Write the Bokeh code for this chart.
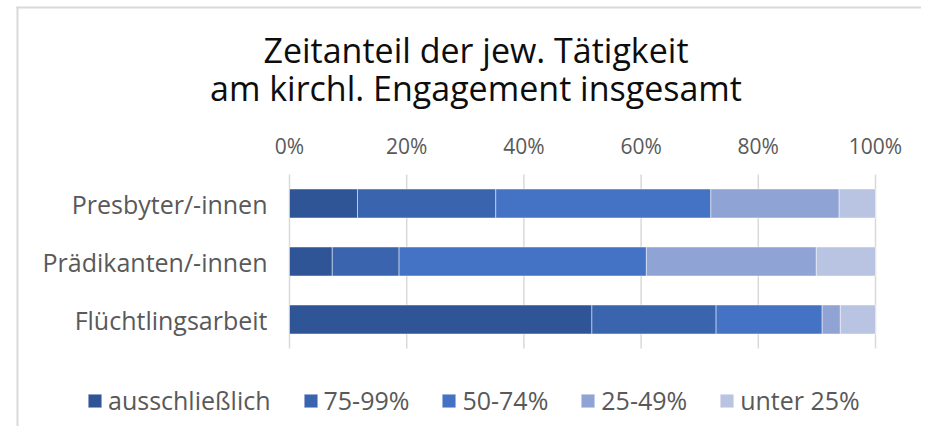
from bokeh.plotting import figure
from bokeh.models import Range1d, Legend, LegendItem, Label, FixedTicker, BoxAnnotation
from bokeh.embed import file_html
from bokeh.resources import INLINE

# ---- data -------------------------------------------------------------
categories = ["Flüchtlingsarbeit", "Prädikanten/-innen", "Presbyter/-innen"]  # bottom -> top
series = ["ausschließlich", "75-99%", "50-74%", "25-49%", "unter 25%"]
ausschliesslich = [51.6, 7.3, 11.6]
p75_99 = [21.2, 11.4, 23.6]
p50_74 = [18.1, 42.2, 36.7]
p25_49 = [3.1, 29.0, 21.9]
unter25 = [6.0, 10.1, 6.2]
tick_values = [0, 20, 40, 60, 80, 100]
tick_labels = ["0%", "20%", "40%", "60%", "80%", "100%"]
title_lines = ["Zeitanteil der jew. Tätigkeit", "am kirchl. Engagement insgesamt"]
colors = ["#2F5597", "#3A64AD", "#4472C4", "#8FA3D4", "#B9C3E2"]

FONT = "Open Sans"
GREY = "#595959"

# ---- layout (canvas pixels, frame == whole canvas) ----------------------
W, H = 921, 426
PLOT_L, PLOT_R = 289, 875          # x pixels of 0 % and 100 %
BAND_TOP, BAND_BOT = 174, 348      # y pixels (from top) of category band
px_per_pct = (PLOT_R - PLOT_L) / (tick_values[-1] - tick_values[0])
n = len(categories)
px_per_cat = (BAND_BOT - BAND_TOP) / n

x_start = tick_values[0] - PLOT_L / px_per_pct
x_end = tick_values[-1] + (W - PLOT_R) / px_per_pct
y_start = -(H - BAND_BOT) / px_per_cat
y_end = n + BAND_TOP / px_per_cat

positions = [i + 0.5 for i in range(n)]

data = dict(y=positions)
for name, vals in zip(series, [ausschliesslich, p75_99, p50_74, p25_49, unter25]):
    data[name] = vals

p = figure(
    width=W, height=H,
    x_range=Range1d(x_start, x_end), y_range=Range1d(y_start, y_end),
    x_axis_location="above",
    output_backend="svg", toolbar_location=None, tools="",
    min_border=0, outline_line_color=None,
)
p.grid.visible = False

# grid lines limited to the category band
p.segment(x0=tick_values, x1=tick_values, y0=[0] * len(tick_values), y1=[n] * len(tick_values),
          line_color="#d9d9d9", line_width=1.5)

renderers = p.hbar_stack(series, y="y", height=0.5, color=colors, source=data,
                         line_color="#ffffff", line_alpha=0.6, line_width=0.8)

xa = p.xaxis[0]
xa.fixed_location = n
xa.ticker = FixedTicker(ticks=tick_values)
xa.major_label_overrides = {v: l for v, l in zip(tick_values, tick_labels)}
xa.axis_line_color = None
xa.major_tick_line_color = None
xa.minor_tick_line_color = None
xa.major_label_text_font = FONT
xa.major_label_text_font_size = "21px"
xa.major_label_text_color = GREY
xa.major_label_standoff = 9

ya = p.yaxis[0]
ya.fixed_location = 0
ya.ticker = FixedTicker(ticks=positions)
ya.major_label_overrides = {pos: c for pos, c in zip(positions, categories)}
ya.axis_line_color = None
ya.major_tick_line_color = None
ya.minor_tick_line_color = None
ya.major_label_text_font = FONT
ya.major_label_text_font_size = "25px"
ya.major_label_text_color = GREY
ya.major_label_standoff = 16

# title (two centred lines), screen units from the frame's bottom-left
for txt, yy in zip(title_lines, [H - 49.5, H - 87.5]):
    p.add_layout(Label(x=475.5, y=yy, x_units="screen", y_units="screen", text=txt,
                       text_align="center", text_baseline="alphabetic",
                       text_font=FONT, text_font_size="34px", text_color="#0d0d0d"))

# legend
items = [LegendItem(label=s, renderers=[r]) for s, r in zip(series, renderers)]
legend = Legend(items=items, orientation="horizontal", location=(86, 9),
                glyph_width=17, glyph_height=17, label_standoff=5, spacing=31,
                label_text_font=FONT, label_text_font_size="25px",
                label_text_color=GREY, padding=0, margin=0,
                border_line_color=None, background_fill_alpha=0)
p.add_layout(legend, "center")

# chart-area border (top and left edges)
p.add_layout(BoxAnnotation(left=16, right=18, bottom=0, top=H - 6, left_units="screen",
                           right_units="screen", bottom_units="screen", top_units="screen",
                           fill_color="#d9d9d9", fill_alpha=1, line_color=None))
p.add_layout(BoxAnnotation(left=16, right=W, bottom=H - 8, top=H - 6, left_units="screen",
                           right_units="screen", bottom_units="screen", top_units="screen",
                           fill_color="#d9d9d9", fill_alpha=1, line_color=None))

open("out.html", "w").write(file_html(p, INLINE))
